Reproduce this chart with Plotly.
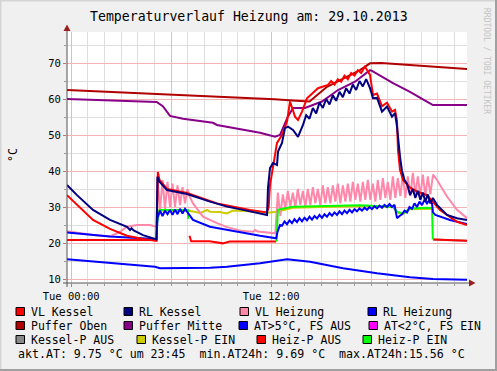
import plotly.graph_objects as go

# ---------------- chart text ----------------
title_text = "Temperaturverlauf Heizung am: 29.10.2013"
y_title = "°C"
watermark = "RRDTOOL / TOBI OETIKER"
x_tick_vals = [0, 6, 12, 18]
x_tick_text = ["Tue 00:00", "", "Tue 12:00", ""]
x_minor_vals = list(range(0, 24))
y_tick_vals = [10, 20, 30, 40, 50, 60, 70]
y_tick_text = ["10", "20", "30", "40", "50", "60", "70"]
y_minor_vals = [15, 25, 35, 45, 55, 65, 75]
footer_text = "akt.AT: 9.75 °C um 23:45  min.AT24h: 9.69 °C  max.AT24h:15.56 °C"

legend_names = ["VL Kessel", "RL Kessel", "VL Heizung", "RL Heizung",
                "Puffer Oben", "Puffer Mitte", "AT>5°C, FS AUS", "AT<2°C, FS EIN",
                "Kessel-P AUS", "Kessel-P EIN", "Heiz-P AUS", "Heiz-P EIN"]
legend_colors = ["#ff0000", "#000080", "#ff88aa", "#0000ff",
                 "#b00000", "#880088", "#0000ff", "#ff00ff",
                 "#888888", "#cccc00", "#ff0000", "#00ff00"]


def grid(start, step, n):
    # regular sampling times (hours) for densely sampled segments
    return [round(start + step * i, 3) for i in range(n)]


# ---------------- data: hours since Tue 00:00 / temperature °C ----------------
puffer_oben_h = [-0.25, 11.33, 12.2, 13.5, 14.3, 15.35, 16.31, 17.33, 17.93, 18.6, 23.75]
puffer_oben_v = [62.5, 60.2, 59.9, 59.5, 59.3, 63.4, 65.7, 68.0, 69.9, 70.0, 68.3]

puffer_mitte_h = [-0.25, 5.13, 5.5, 5.93, 6.71, 8.5, 8.75, 11.33, 12.23, 12.53, 13.0, 13.31,
                  14.03, 15.05, 16.01, 17.03, 17.93, 18.05, 19.31, 20.33, 21.34, 21.71, 23.75]
puffer_mitte_v = [60.0, 59.2, 58.0, 55.3, 54.5, 53.4, 52.8, 50.6, 49.5, 50.0, 55.1, 57.5,
                  57.5, 59.3, 62.5, 64.8, 68.0, 67.8, 64.4, 62.0, 59.3, 58.3, 58.3]

at5_h = [-0.25, 2.33, 5.03, 5.33, 8.33, 9.35, 10.31, 11.33, 12.95, 14.33, 16.31, 18.35, 20.33, 21.71, 23.75]
at5_v = [15.5, 14.4, 13.4, 13.0, 13.1, 13.4, 13.9, 14.4, 15.5, 14.8, 13.0, 11.6, 10.5, 10.0, 9.8]

at2_h = []
at2_v = []

kessel_p_aus_h = [-0.25, 5.1, None, 21.72, 23.75]
kessel_p_aus_v = [20.8, 20.8, None, 21.0, 20.6]

kessel_p_ein_h = [5.15, 7.0, 7.13, 7.5, 7.73, 8.15, 8.33, 8.93, 9.35, 9.71, 10.5, 11.75,
                  12.35, 13.3, 17.3, 19.31, 19.55, 19.91, 20.33, 21.65]
kessel_p_ein_v = [29.0, 29.0, 28.9, 28.6, 28.3, 29.2, 28.7, 28.6, 28.2, 29.0, 28.9, 28.4,
                  28.7, 29.8, 30.3, 30.0, 28.5, 28.0, 29.4, 29.5]

heiz_p_aus_h = [-0.25, 5.1, None, 7.1, 7.2, 8.3, 9.1, 9.5, 11.33, 12.3, None, 21.72, 23.75]
heiz_p_aus_v = [20.8, 20.8, None, 22.0, 20.5, 20.5, 19.9, 20.4, 20.4, 20.4, None, 21.0, 20.6]

heiz_p_ein_h = [5.15, 5.3, 7.0, 7.02, None, 12.33, 12.4, 13.31, 15.35, 17.33, 19.31, 19.55,
                19.91, 20.33, 21.35, 21.65, 21.7]
heiz_p_ein_v = [25.5, 29.2, 29.2, 26.7, None, 20.4, 29.2, 30.1, 30.4, 30.5, 30.1, 28.7,
                28.2, 29.6, 29.8, 29.7, 21.0]

# VL Heizung
vl_heiz_h1 = [-0.25, 1.31, 2.33, 2.93, 3.35, 3.95, 4.73, 5.03, 5.12]
vl_heiz_v1 = [23.3, 22.2, 21.8, 23.1, 24.5, 25.0, 25.0, 24.5, 24.5]
vl_heiz_osc1 = [38.5, 29.0, 37.5, 29.5, 37.0, 30.0, 36.5, 30.0, 36.0, 30.5, 35.5, 31.0, 35.0]
vl_heiz_h2 = [7.1, 7.31, 7.91, 8.75, 9.35, 10.31, 10.91, 11.03, 11.2, 12.25]
vl_heiz_v2 = [33.0, 31.0, 27.3, 25.5, 24.4, 23.3, 23.1, 23.6, 23.2, 22.7]
vl_heiz_osc2 = [34.0, 27.5, 33.5, 29.5, 34.5, 30.0, 34.0, 30.0, 35.0, 30.5, 34.5, 30.0,
                35.0, 30.5, 35.5, 31.0, 35.0, 30.5, 36.0, 31.0, 35.5, 31.0, 36.0, 31.5,
                36.5, 31.0, 36.0, 31.5, 36.5, 31.5, 37.0, 32.0, 36.5, 31.5, 37.0, 32.0,
                37.5, 32.0, 36.5, 31.5, 37.5, 32.0, 38.0, 32.5, 37.0, 32.0, 38.5, 32.5,
                38.0, 33.0, 39.0, 32.5, 38.5, 33.0, 39.5, 33.5, 38.5, 33.0, 39.0, 33.0,
                38.5, 33.5]
vl_heiz_h3 = [21.71, 21.95, 22.55, 23.15, 23.75]
vl_heiz_v3 = [39.0, 37.5, 32.9, 29.2, 26.9]

# RL Heizung
rl_heiz_h1 = [-0.25, 2.33, 5.03, 5.12]
rl_heiz_v1 = [22.9, 21.8, 21.1, 21.1]
rl_heiz_osc1 = [27.0, 29.0, 27.5, 29.0, 28.0, 29.2, 27.8, 29.3, 28.0, 29.5, 28.2, 29.5, 28.5]
rl_heiz_h2 = [7.31, 8.33, 9.35, 10.31, 11.33, 12.3, 12.38, 12.53]
rl_heiz_v2 = [26.4, 24.5, 23.6, 22.7, 22.0, 21.3, 23.1, 25.0]
rl_heiz_osc2 = [24.8, 26.0, 25.2, 26.3, 25.5, 26.6, 25.8, 26.9, 26.0, 27.0, 26.3, 27.3,
                26.5, 27.5, 26.8, 27.8, 27.0, 28.0, 27.3, 28.3, 27.6, 28.5, 27.8, 28.8,
                28.0, 29.0, 28.3, 29.2, 28.5, 29.4, 28.8, 29.6, 29.0, 29.8, 29.2, 30.0,
                29.4, 30.2, 29.6, 30.4, 29.8, 30.6, 30.0, 30.8, 30.0, 30.6]
rl_heiz_h3 = [19.55, 19.7]
rl_heiz_v3 = [26.9, 27.5]
rl_heiz_osc3 = [28.0, 29.0, 28.5, 30.0, 29.5, 31.0, 30.0, 31.5, 30.5, 32.0, 31.0, 32.0, 31.0]
rl_heiz_h4 = [21.71, 21.85, 22.73, 23.75]
rl_heiz_v4 = [28.5, 27.8, 26.4, 25.3]

# RL Kessel
rl_kessel_h1 = [-0.25, 0.35, 1.31, 2.33, 3.35, 3.53, 3.62, 3.75, 4.31, 5.03, 5.12, 5.18, 5.3,
                5.75, 6.95, 8.33, 9.35, 10.31, 11.33, 11.75, 11.81, 11.93, 12.11, 12.35, 12.41,
                12.65, 12.83, 13.01, 13.31, 13.61, 13.91]
rl_kessel_v1 = [36.1, 33.3, 29.2, 26.4, 24.5, 23.6, 24.1, 23.5, 22.2, 21.3, 21.0, 38.4, 37.0,
                34.7, 33.6, 31.5, 30.1, 29.2, 28.3, 27.8, 35.3, 40.8, 42.2, 41.7, 45.4,
                47.8, 51.9, 52.3, 51.4, 49.5, 52.8]
rl_kessel_osc = [55.5, 54.5, 57.5, 56.0, 59.0, 57.5, 60.0, 58.5, 61.0, 59.5, 62.0, 60.5,
                 63.0, 61.5, 64.0, 62.5, 65.0, 63.5, 65.5]
rl_kessel_h2 = [17.93, 18.11, 18.35, 18.65, 18.95, 19.25, 19.43, 19.55, 19.73, 19.85, 20.0,
                20.15, 20.33, 20.5, 20.65, 20.8, 20.95, 21.1, 21.25, 21.4, 21.55, 21.7, 21.95,
                22.55, 23.15, 23.75]
rl_kessel_v2 = [63.0, 60.2, 60.3, 56.5, 57.9, 55.1, 56.1, 52.3, 44.0, 40.0, 37.5,
                36.5, 33.3, 35.0, 32.5, 34.5, 32.0, 34.0, 31.5, 33.5, 31.0, 32.5, 30.6,
                27.8, 26.9, 26.4]

# VL Kessel
vl_kessel_h1 = [-0.25, 0.35, 1.31, 2.33, 3.35, 4.31, 5.03, 5.12, 5.2, 5.3, 5.75, 6.95, 8.75,
                10.73, 11.75, 11.85, 11.93, 12.11, 12.35, 12.65, 12.95, 13.13, 13.43, 13.61,
                13.85, 14.15, 14.81, 15.41]
vl_kessel_v1 = [33.3, 30.6, 26.4, 23.9, 22.0, 21.1, 20.6, 20.6, 39.7, 37.5, 35.0, 33.9, 31.0,
                29.2, 28.5, 30.0, 36.1, 41.7, 47.8, 50.0, 53.7, 59.3, 55.1, 54.2,
                56.5, 60.2, 63.0, 63.9]
vl_kessel_osc = [65.0, 64.0, 65.5, 64.8, 66.5, 65.5, 67.2, 66.5, 68.0, 67.2]
vl_kessel_h2 = [17.63, 17.93, 18.11, 18.35, 18.65, 18.95, 19.25, 19.43, 19.55, 19.61, 19.73,
                19.91, 20.3, 20.75, 21.35, 22.13, 23.15, 23.75]
vl_kessel_v2 = [69.0, 66.7, 61.1, 61.5, 58.0, 59.0, 56.5, 57.0, 54.0, 45.8, 40.3,
                37.5, 35.5, 34.3, 33.3, 29.2, 25.9, 25.0]

# assemble the series
vl_heiz_h = (vl_heiz_h1 + grid(5.18, 0.15, len(vl_heiz_osc1)) + vl_heiz_h2
             + grid(12.4, 0.15, len(vl_heiz_osc2)) + vl_heiz_h3)
vl_heiz_v = vl_heiz_v1 + vl_heiz_osc1 + vl_heiz_v2 + vl_heiz_osc2 + vl_heiz_v3

rl_heiz_h = (rl_heiz_h1 + grid(5.18, 0.15, len(rl_heiz_osc1)) + rl_heiz_h2
             + grid(12.65, 0.15, len(rl_heiz_osc2)) + rl_heiz_h3
             + grid(19.85, 0.15, len(rl_heiz_osc3)) + rl_heiz_h4)
rl_heiz_v = rl_heiz_v1 + rl_heiz_osc1 + rl_heiz_v2 + rl_heiz_osc2 + rl_heiz_v3 + rl_heiz_osc3 + rl_heiz_v4

rl_kessel_h = rl_kessel_h1 + grid(14.1, 0.2, len(rl_kessel_osc)) + rl_kessel_h2
rl_kessel_v = rl_kessel_v1 + rl_kessel_osc + rl_kessel_v2

vl_kessel_h = vl_kessel_h1 + grid(15.6, 0.2, len(vl_kessel_osc)) + vl_kessel_h2
vl_kessel_v = vl_kessel_v1 + vl_kessel_osc + vl_kessel_v2

# ---------------- geometry helpers (pixel -> paper) ----------------
W, H = 497, 371
L, R, T, B = 67, 467, 32, 283


def px(x):
    return (x - L) / (R - L)


def py(y):
    return (B - y) / (B - T)


MONO = "DejaVu Sans Mono"
col = dict(zip(legend_names, legend_colors))

fig = go.Figure()

draw_order = [
    ("Kessel-P AUS", kessel_p_aus_h, kessel_p_aus_v),
    ("Heiz-P AUS", heiz_p_aus_h, heiz_p_aus_v),
    ("Kessel-P EIN", kessel_p_ein_h, kessel_p_ein_v),
    ("VL Heizung", vl_heiz_h, vl_heiz_v),
    ("Heiz-P EIN", heiz_p_ein_h, heiz_p_ein_v),
    ("AT<2°C, FS EIN", at2_h, at2_v),
    ("AT>5°C, FS AUS", at5_h, at5_v),
    ("Puffer Oben", puffer_oben_h, puffer_oben_v),
    ("Puffer Mitte", puffer_mitte_h, puffer_mitte_v),
    ("RL Heizung", rl_heiz_h, rl_heiz_v),
    ("VL Kessel", vl_kessel_h, vl_kessel_v),
    ("RL Kessel", rl_kessel_h, rl_kessel_v),
]
for name, xs, ys in draw_order:
    fig.add_trace(go.Scatter(x=xs, y=ys, mode="lines", name=name,
                             line=dict(color=col[name], width=2),
                             connectgaps=False, hoverinfo="skip", showlegend=False))

shapes = []
annotations = []

# axis lines and arrows
shapes.append(dict(type="line", xref="paper", yref="paper", x0=px(67), x1=px(67),
                   y0=py(287), y1=py(29), line=dict(color="#555555", width=1)))
shapes.append(dict(type="line", xref="paper", yref="paper", x0=px(63), x1=px(470),
                   y0=py(283), y1=py(283), line=dict(color="#555555", width=1)))
shapes.append(dict(type="path", xref="paper", yref="paper",
                   path=f"M {px(469)} {py(279.5)} L {px(475.5)} {py(283)} L {px(469)} {py(286.5)} Z",
                   fillcolor="#9a1f1f", line=dict(width=0)))
shapes.append(dict(type="path", xref="paper", yref="paper",
                   path=f"M {px(63.5)} {py(31)} L {px(67)} {py(24.5)} L {px(70.5)} {py(31)} Z",
                   fillcolor="#9a1f1f", line=dict(width=0)))

# frame
shapes.append(dict(type="line", xref="paper", yref="paper", x0=px(0), x1=px(497),
                   y0=py(0.5), y1=py(0.5), line=dict(color="#d4d4d4", width=2)))
shapes.append(dict(type="line", xref="paper", yref="paper", x0=px(0.5), x1=px(0.5),
                   y0=py(0), y1=py(371), line=dict(color="#d4d4d4", width=2)))
shapes.append(dict(type="line", xref="paper", yref="paper", x0=px(496), x1=px(496),
                   y0=py(0), y1=py(371), line=dict(color="#a0a0a0", width=2)))
shapes.append(dict(type="line", xref="paper", yref="paper", x0=px(0), x1=px(497),
                   y0=py(370), y1=py(370), line=dict(color="#a0a0a0", width=2)))

# legend (custom, RRDtool style)
legend_rows_y = [311.5, 325.5, 339.5]
legend_cols_x = [[16, 124, 240, 368], [16, 124, 239, 369], [16, 137, 257, 363]]
for r in range(3):
    for c in range(4):
        i = r * 4 + c
        sx = legend_cols_x[r][c]
        ry = legend_rows_y[r]
        shapes.append(dict(type="rect", xref="paper", yref="paper",
                           x0=px(sx), x1=px(sx + 8.5), y0=py(ry - 4), y1=py(ry + 4),
                           fillcolor=legend_colors[i], line=dict(color="#000000", width=1)))
        annotations.append(dict(xref="paper", yref="paper", x=px(sx + 13), y=py(ry),
                                xanchor="left", yanchor="middle", showarrow=False,
                                text=legend_names[i],
                                font=dict(family=MONO, size=11.5, color="#000000")))

annotations.append(dict(xref="paper", yref="paper", x=px(15.5), y=py(353.5),
                        xanchor="left", yanchor="middle", showarrow=False, text=footer_text,
                        font=dict(family=MONO, size=11.6, color="#000000")))
annotations.append(dict(xref="paper", yref="paper", x=px(249), y=py(16.5),
                        xanchor="center", yanchor="middle", showarrow=False, text=title_text,
                        font=dict(family=MONO, size=13.2, color="#000000")))
annotations.append(dict(xref="paper", yref="paper", x=px(13), y=py(155),
                        xanchor="center", yanchor="middle", showarrow=False, text=y_title,
                        textangle=-90, font=dict(family=MONO, size=11.5, color="#000000")))
annotations.append(dict(xref="paper", yref="paper", x=px(487), y=py(61),
                        xanchor="center", yanchor="middle", showarrow=False, text=watermark,
                        textangle=90, font=dict(family=MONO, size=8, color="#c4c4c4")))

fig.update_layout(
    width=W, height=H,
    margin=dict(l=L, r=W - R, t=T, b=H - B, pad=0),
    paper_bgcolor="#f0f0f0", plot_bgcolor="#ffffff",
    showlegend=False,
    shapes=shapes, annotations=annotations,
    xaxis=dict(range=[-0.25, 23.75], tickmode="array", tickvals=x_tick_vals, ticktext=x_tick_text,
               showgrid=True, gridcolor="#f2b4b4", gridwidth=1, zeroline=False, showline=False,
               ticks="outside", ticklen=3, tickcolor="#c87070",
               tickfont=dict(family=MONO, size=10.5, color="#000000"),
               minor=dict(tickmode="array", tickvals=x_minor_vals, showgrid=True,
                          gridcolor="#dedede", gridwidth=1, ticks="outside", ticklen=2,
                          tickcolor="#999999"),
               fixedrange=True),
    yaxis=dict(range=[8.89, 78.61], tickmode="array", tickvals=y_tick_vals, ticktext=y_tick_text,
               showgrid=True, gridcolor="#f2b4b4", gridwidth=1, zeroline=False, showline=False,
               ticks="outside", ticklen=3, tickcolor="#c87070",
               tickfont=dict(family=MONO, size=10.5, color="#000000"),
               minor=dict(tickmode="array", tickvals=y_minor_vals, showgrid=True,
                          gridcolor="#dedede", gridwidth=1, ticks="outside", ticklen=2,
                          tickcolor="#999999"),
               fixedrange=True),
)

fig.write_html("out.html", config={"displayModeBar": False},
               post_script="document.body.style.margin='0';document.body.style.padding='0';")
